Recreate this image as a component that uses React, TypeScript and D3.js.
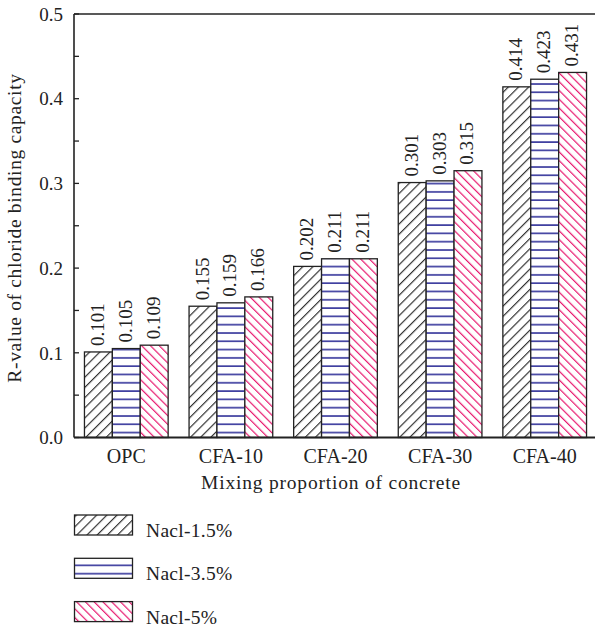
import React from "react";
import * as d3 from "d3";

const categories = ["OPC", "CFA-10", "CFA-20", "CFA-30", "CFA-40"];
const seriesNames = ["Nacl-1.5%", "Nacl-3.5%", "Nacl-5%"];
const nacl15 = [0.101, 0.155, 0.202, 0.301, 0.414];
const nacl35 = [0.105, 0.159, 0.211, 0.303, 0.423];
const nacl5 = [0.109, 0.166, 0.211, 0.315, 0.431];
const yTicks = [0.0, 0.1, 0.2, 0.3, 0.4, 0.5];
const yMinorTicks = [0.05, 0.15, 0.25, 0.35, 0.45];

const seriesValues = [nacl15, nacl35, nacl5];
const patternIds = ["hatchBlack", "hatchBlue", "hatchPink"];

const FONT = "'Liberation Serif', 'DejaVu Serif', serif";

export default function App() {
  const W = 595;
  const H = 633;
  const left = 74;
  const top = 14;
  const bottom = 437.5;
  const step = 104.6;
  const right = left + step * categories.length;

  const x0 = d3.scaleBand<string>().domain(categories).range([left, right]).paddingInner(0.2).paddingOuter(0.1);
  const x1 = d3.scaleBand<string>().domain(seriesNames).range([0, x0.bandwidth()]);
  const y = d3.scaleLinear().domain([0, 0.5]).range([bottom, top]);

  const fmt = d3.format(".3f");

  return (
    <svg width={W} height={H} style={{ display: "block", position: "absolute", left: 0, top: 0 }} fontFamily={FONT}>
      <defs>
        <pattern id="hatchBlack" patternUnits="userSpaceOnUse" width={7.2} height={10} patternTransform="rotate(45)">
          <rect width={7.2} height={10} fill="#fff" />
          <line x1={0.6} y1={0} x2={0.6} y2={10} stroke="#222" strokeWidth={1.1} />
        </pattern>
        <pattern id="hatchBlue" patternUnits="userSpaceOnUse" width={10} height={8.3}>
          <rect width={10} height={8.3} fill="#fff" />
          <line x1={0} y1={1} x2={10} y2={1} stroke="#33339a" strokeWidth={1.6} />
        </pattern>
        <pattern id="hatchPink" patternUnits="userSpaceOnUse" width={6.2} height={10} patternTransform="rotate(-45)">
          <rect width={6.2} height={10} fill="#fff" />
          <line x1={0.6} y1={0} x2={0.6} y2={10} stroke="#e8196f" strokeWidth={1.2} />
        </pattern>
      </defs>

      {/* bars */}
      {categories.map((c, i) => (
        <g key={c} transform={`translate(${x0(c)},0)`}>
          {seriesNames.map((s, j) => {
            const v = seriesValues[j][i];
            const bx = x1(s)!;
            const bw = x1.bandwidth();
            const by = y(v);
            const cx = bx + bw / 2;
            return (
              <g key={s}>
                <rect x={bx} y={by} width={bw} height={bottom - by} fill={`url(#${patternIds[j]})`} stroke="#222" strokeWidth={1.3} />
                <text
                  transform={`translate(${cx + 5.5},${by - 6}) rotate(-90)`}
                  fontSize={19}
                  fill="#222"
                  textAnchor="start"
                >
                  {fmt(v)}
                </text>
              </g>
            );
          })}
        </g>
      ))}

      {/* frame: left, top, bottom */}
      <line x1={left} y1={top} x2={left} y2={bottom} stroke="#222" strokeWidth={1.6} />
      <line x1={left} y1={top} x2={W} y2={top} stroke="#222" strokeWidth={1.6} />
      <line x1={left} y1={bottom} x2={W} y2={bottom} stroke="#222" strokeWidth={1.8} />

      {/* y ticks */}
      {yTicks.map((t) => (
        <g key={t}>
          <line x1={left} x2={left + 5} y1={y(t)} y2={y(t)} stroke="#222" strokeWidth={1.3} />
          <text x={left - 11} y={y(t) + 6.7} fontSize={19} textAnchor="end" fill="#222">
            {d3.format(".1f")(t)}
          </text>
        </g>
      ))}
      {yMinorTicks.map((t) => (
        <line key={t} x1={left} x2={left + 5} y1={y(t)} y2={y(t)} stroke="#222" strokeWidth={1.3} />
      ))}

      {/* x category labels */}
      {categories.map((c) => (
        <text key={c} x={x0(c)! + x0.bandwidth() / 2} y={463} fontSize={20} textAnchor="middle" fill="#222">
          {c}
        </text>
      ))}

      {/* axis titles */}
      <text x={331} y={489} fontSize={19.5} letterSpacing={0.8} textAnchor="middle" fill="#222">
        Mixing proportion of concrete
      </text>
      <text transform={`translate(21,228) rotate(-90)`} fontSize={19.5} letterSpacing={0.65} textAnchor="middle" fill="#222">
        R-value of chloride binding capacity
      </text>

      {/* legend */}
      {seriesNames.map((s, j) => {
        const ly = 515 + j * 43.3;
        return (
          <g key={s}>
            <rect x={74.5} y={ly} width={58} height={20} fill={`url(#${patternIds[j]})`} stroke="#222" strokeWidth={1.3} />
            <text x={146} y={ly + 22} fontSize={19.5} letterSpacing={0.3} fill="#222">
              {s}
            </text>
          </g>
        );
      })}
    </svg>
  );
}
